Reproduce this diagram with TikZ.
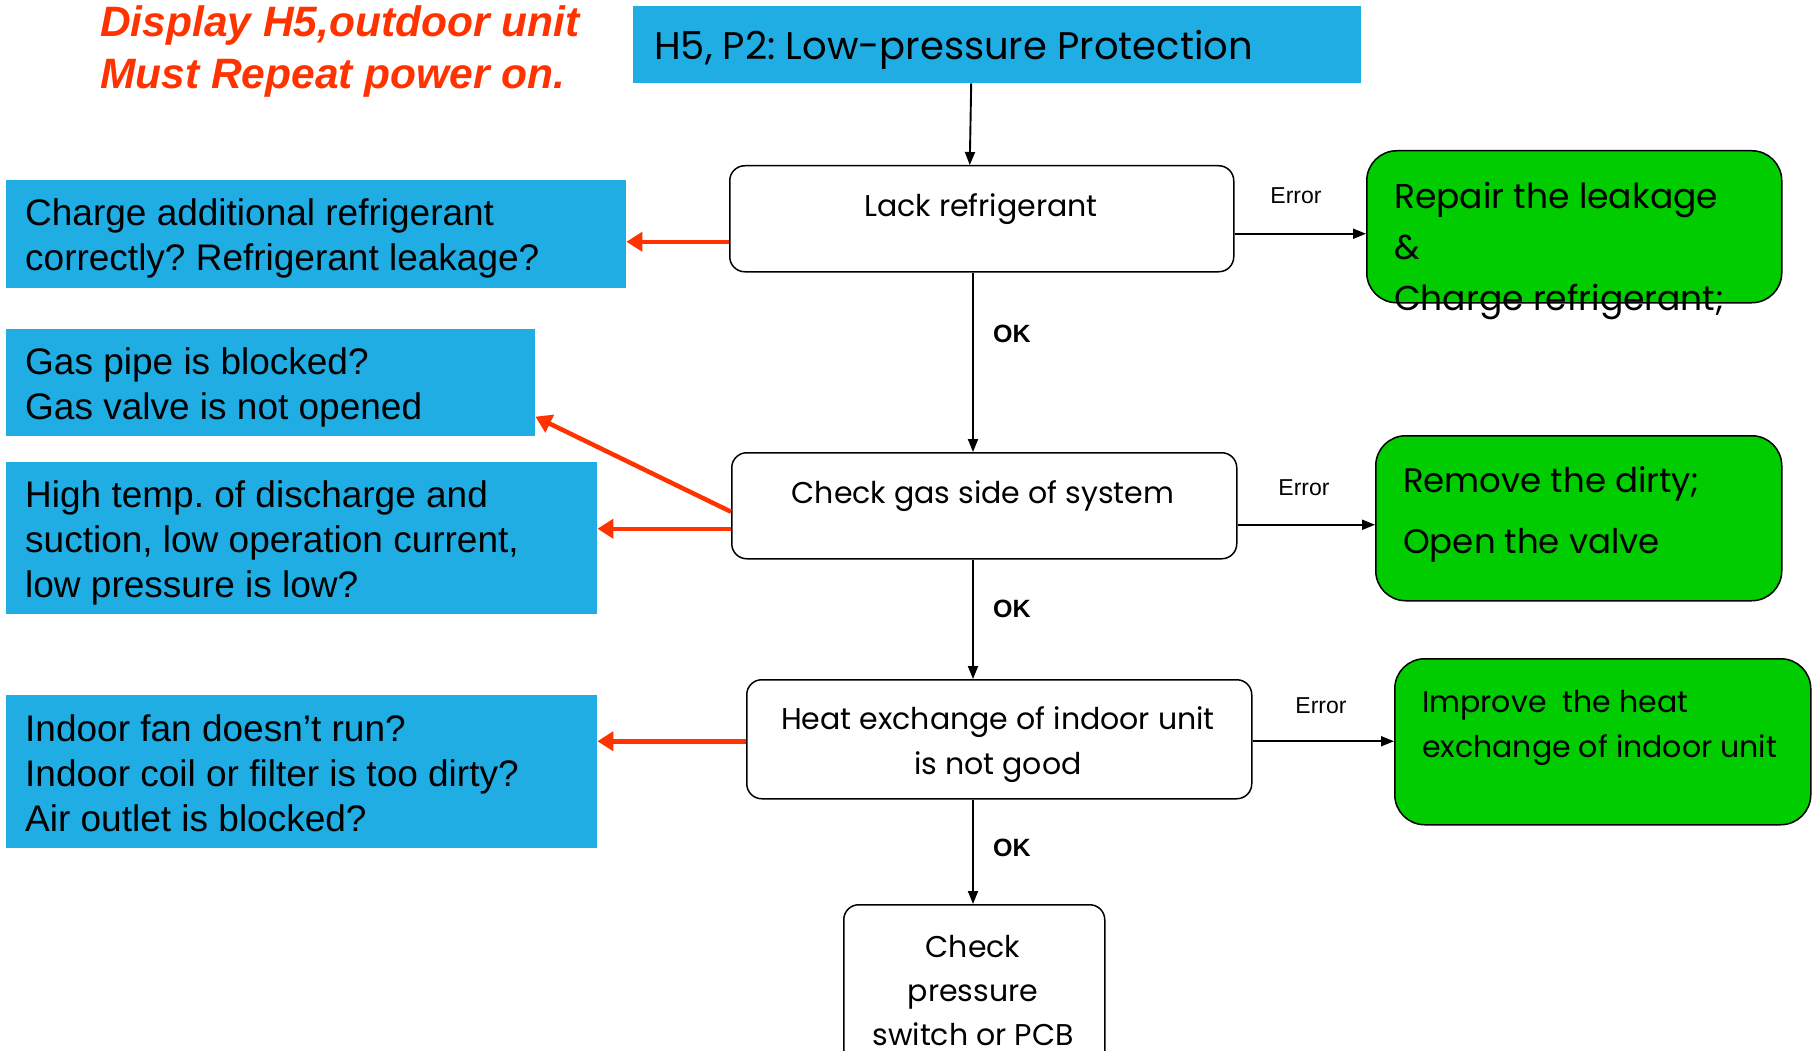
\documentclass[tikz,border=0pt]{standalone}
\usepackage{fontspec}
\setmainfont{Liberation Sans}
\newfontfamily\geo{Poppins}
\usetikzlibrary{arrows.meta}
\definecolor{blueC}{RGB}{31,173,228}
\definecolor{greenC}{RGB}{0,204,0}
\definecolor{redC}{RGB}{255,51,0}
\frenchspacing
\begin{document}
\begin{tikzpicture}[x=1pt,y=-1pt,
  bluebox/.style={fill=blueC, draw=none, inner sep=0pt, anchor=north west},
  flowbox/.style={draw=black, fill=white, line width=1.5pt, rounded corners=15pt, inner sep=0pt, anchor=north west},
  greenbox/.style={draw=black, fill=greenC, line width=1.5pt, rounded corners=30pt, inner sep=0pt, anchor=north west},
  bluetxt/.style={anchor=base west, align=left, inner sep=0pt, font=\fontsize{37}{45}\selectfont},
  flowtxt/.style={anchor=base, align=center, inner sep=0pt, font=\geo\fontsize{30}{45}\selectfont},
  greentxt/.style={anchor=base west, align=left, inner sep=0pt},
  blk/.style={-{Triangle[length=13pt,width=10pt]}, line width=1.9pt, draw=black},
  redarr/.style={-{Triangle[length=16pt,width=19pt]}, line width=4.5pt, draw=redC},
  errlbl/.style={anchor=base, inner sep=0pt, font=\fontsize{23}{27}\selectfont},
  oklbl/.style={anchor=base west, inner sep=0pt, font=\bfseries\fontsize{25}{30}\selectfont}
]
\useasboundingbox[fill=white] (0,0) rectangle (1814,1051);

% red note (base anchor = last line baseline)
\node[anchor=base west, align=left, inner sep=0pt, text=redC,
      font=\bfseries\itshape\fontsize{42.5}{52}\selectfont] (note) at (100,89)
      {Display H5,outdoor unit\\Must Repeat power on.};

% title
\node[bluebox, minimum width=728pt, minimum height=77pt] (title) at (633,6) {};
\node[anchor=base west, inner sep=0pt, font=\geo\fontsize{38.5}{44}\selectfont] (titletxt) at (654,60)
      {H5, P2: Low-pressure Protection};

% left blue boxes
\node[bluebox, minimum width=620pt, minimum height=108pt] (b1) at (6,180) {};
\node[bluetxt] (b1t) at (25,270) {Charge additional refrigerant\\correctly? Refrigerant leakage?};
\node[bluebox, minimum width=529pt, minimum height=107pt] (b2) at (6,329) {};
\node[bluetxt] (b2t) at (25,419) {Gas pipe is blocked?\\Gas valve is not opened};
\node[bluebox, minimum width=591pt, minimum height=152pt] (b3) at (6,462) {};
\node[bluetxt] (b3t) at (25,597) {High temp. of discharge and\\suction, low operation current,\\low pressure is low?};
\node[bluebox, minimum width=591pt, minimum height=153pt] (b4) at (6,695) {};
\node[bluetxt] (b4t) at (25,831) {Indoor fan doesn’t run?\\Indoor coil or filter is too dirty?\\Air outlet is blocked?};

% flow boxes
\node[flowbox, minimum width=504pt, minimum height=106pt] (lack) at (729,165) {};
\node[flowtxt] (lackt) at (981,216) {Lack refrigerant};
\node[flowbox, minimum width=505pt, minimum height=106pt] (gas) at (731,452) {};
\node[flowtxt] (gast) at (983,503) {Check gas side of system};
\node[flowbox, minimum width=505pt, minimum height=119pt] (heat) at (746,679) {};
\node[flowtxt] (heatt) at (998,774) {Heat exchange of indoor unit\\is not good};
\node[flowbox, minimum width=261pt, minimum height=170pt] (pcb) at (843,904) {};
\node[flowtxt, font=\geo\fontsize{30}{44}\selectfont] (pcbt) at (973,1045) {Check\\pressure\\switch or PCB};

% green boxes
\node[greenbox, minimum width=415pt, minimum height=152pt] (repair) at (1366,150) {};
\node[greentxt, font=\geo\fontsize{34.5}{51}\selectfont] (repairt) at (1394,310) {Repair the leakage\\\&\\Charge refrigerant;};
\node[greenbox, minimum width=406pt, minimum height=165pt] (remove) at (1375,435) {};
\node[greentxt, font=\geo\fontsize{34}{61}\selectfont] (removet) at (1403,553) {Remove the dirty;\\Open the valve};
\node[greenbox, minimum width=416pt, minimum height=166pt] (improve) at (1394,658) {};
\node[greentxt, font=\geo\fontsize{30}{45}\selectfont] (improvet) at (1422,757) {Improve\ \ the heat\\exchange of indoor unit};

% main vertical flow
\coordinate (axis) at (973,0);
\draw[blk] ([xshift=-26pt]title.south) -- ([xshift=-12pt]lack.north);
\draw[blk] (lack.south -| axis) -- (gas.north -| axis);
\draw[blk] (gas.south -| axis) -- (heat.north -| axis);
\draw[blk] (heat.south -| axis) -- (pcb.north -| axis);
\node[oklbl] (ok1) at (993,342) {OK};
\node[oklbl] (ok2) at (993,617) {OK};
\node[oklbl] (ok3) at (993,856) {OK};

% error arrows
\coordinate (e1) at ([yshift=-15pt]lack.east);
\draw[blk] (e1) -- (e1 -| repair.west);
\node[errlbl] (err1) at (1296,204) {Error};
\coordinate (e2) at ([yshift=-19pt]gas.east);
\draw[blk] (e2) -- (e2 -| remove.west);
\node[errlbl] (err2) at (1304,495) {Error};
\coordinate (e3) at ([yshift=-2pt]heat.east);
\draw[blk] (e3) -- (e3 -| improve.west);
\node[errlbl] (err3) at (1321,713) {Error};

% red arrows
\coordinate (r1) at ([yshift=-23pt]lack.west);
\draw[redarr] (r1) -- (r1 -| b1.east);
\draw[redarr] ([yshift=-6pt]gas.west) -- ([yshift=-34pt]b2.east);
\coordinate (r3) at ([yshift=-23pt]gas.west);
\draw[redarr] (r3) -- (r3 -| b3.east);
\coordinate (r4) at ([yshift=-2pt]heat.west);
\draw[redarr] (r4) -- (r4 -| b4.east);
\end{tikzpicture}
\end{document}
